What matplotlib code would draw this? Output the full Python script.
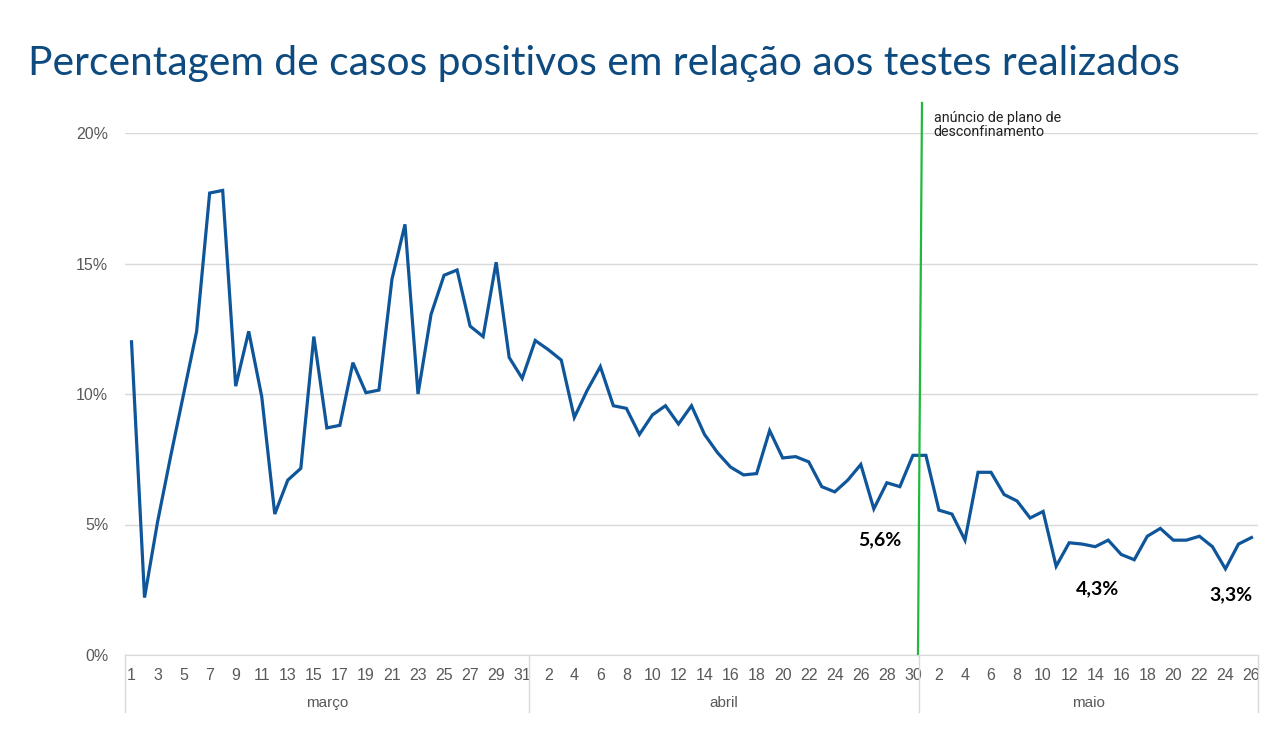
import matplotlib
matplotlib.use('Agg')
import matplotlib.pyplot as plt
import matplotlib.transforms as mtransforms
from matplotlib.ticker import FuncFormatter

# daily share of positive cases (%)
marco = [12.0, 2.2, 5.1, 7.6, 10.0, 12.4, 17.7, 17.8, 10.3, 12.4,
         9.9, 5.4, 6.7, 7.15, 12.2, 8.7, 8.8, 11.2, 10.05, 10.15,
         14.4, 16.5, 10.0, 13.05, 14.55, 14.75, 12.6, 12.2, 15.05, 11.4,
         10.6]
abril = [12.05, 11.7, 11.3, 9.1, 10.15, 11.05, 9.55, 9.45, 8.45, 9.2,
         9.55, 8.85, 9.55, 8.45, 7.75, 7.2, 6.9, 6.95, 8.6, 7.55,
         7.6, 7.4, 6.45, 6.25, 6.7, 7.3, 5.6, 6.6, 6.45, 7.65]
maio = [7.65, 5.55, 5.4, 4.4, 7.0, 7.0, 6.15, 5.9, 5.25, 5.5,
        3.4, 4.3, 4.25, 4.15, 4.4, 3.85, 3.65, 4.55, 4.85, 4.4,
        4.4, 4.55, 4.15, 3.3, 4.25, 4.5]
meses = ['março', 'abril', 'maio']
destaques = [('5,6%', 57.5, 4.4), ('4,3%', 74.2, 2.55), ('3,3%', 84.4, 2.3)]

dias = list(range(1, 32)) + list(range(1, 31)) + list(range(1, 27))
valores = marco + abril + maio
n = len(valores)

fig = plt.figure(figsize=(12.67, 7.34), dpi=100)
ax = fig.add_axes([125 / 1267, 1 - 655 / 734, 1133 / 1267, 522 / 734])

grey = '#595959'
ax.set_xlim(-0.5, n - 0.5)
ax.set_ylim(0, 20)
ax.set_yticks([0, 5, 10, 15, 20])
ax.yaxis.set_major_formatter(FuncFormatter(lambda v, p: f'{v:.0f}%'))
ax.grid(axis='y', color='#d9d9d9', linewidth=1)
ax.set_axisbelow(True)
for s in ['left', 'right', 'top']:
    ax.spines[s].set_visible(False)
ax.spines['bottom'].set_color('#d9d9d9')

ax.set_xticks(range(0, n, 2))
ax.set_xticklabels([str(dias[i]) for i in range(0, n, 2)])
ax.tick_params(axis='both', length=0, labelcolor=grey, labelsize=11.5)
ax.tick_params(axis='y', pad=12)
ax.tick_params(axis='x', pad=9)
for lab in ax.get_xticklabels() + ax.get_yticklabels():
    lab.set_family('Liberation Sans')

ax.plot(range(n), valores, color='#0e5699', linewidth=2.3, solid_joinstyle='miter')

# month group axis (Excel style)
trans = mtransforms.blended_transform_factory(ax.transData, ax.transAxes)
fronteiras = [-0.5, len(marco) - 0.5, len(marco) + len(abril) - 0.5, n - 0.5]
for xb in fronteiras:
    ax.plot([xb, xb], [0, -0.109], transform=trans, color='#d9d9d9',
            linewidth=1, clip_on=False)
for mes, a, b in zip(meses, fronteiras[:-1], fronteiras[1:]):
    ax.text((a + b) / 2, -0.092, mes, transform=trans, ha='center', va='center',
            fontsize=11, color=grey, family='Liberation Sans')

# announcement marker
ax.plot([60.39, 60.7], [0, 21.15], color='#22b83f', linewidth=1.6, clip_on=False)
ax.text(61.6, 20.85, 'anúncio de plano de\ndesconfinamento', ha='left', va='top',
        fontsize=10.3, color='#222222', family='Roboto', linespacing=1.05)

for txt, x, y in destaques:
    ax.text(x, y, txt, ha='center', va='center', fontsize=14, fontweight='bold',
            family='Lato', color='black',
            bbox=dict(facecolor='white', edgecolor='none', pad=2))

fig.text(28 / 1267, 1 - 63 / 734, 'Percentagem de casos positivos em relação aos testes realizados',
         ha='left', va='center', fontsize=29.3, color='#0d4a80', family='Lato')

fig.savefig('out.png', dpi=100)
